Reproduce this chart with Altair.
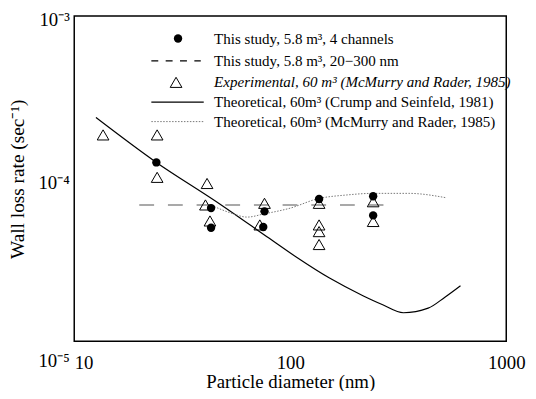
import altair as alt
import pandas as pd

# ---------------- data ----------------
# This study, 5.8 m3, 4 channels (filled circles)
study_d = [24, 43, 43, 76, 75, 136, 242, 242]
study_rate = [1.26e-4, 6.6e-5, 5.0e-5, 6.3e-5, 5.05e-5, 7.5e-5, 7.8e-5, 5.95e-5]

# Experimental, 60 m3 (McMurry and Rader, 1985) (open triangles)
exp_d = [13.6, 24.2, 24.2, 41.2, 40.5, 42.5, 76, 72.3, 136, 136, 136, 136, 242, 242]
exp_rate = [1.86e-4, 1.86e-4, 1.02e-4, 9.35e-5, 6.9e-5, 5.5e-5, 7.06e-5, 5.2e-5,
            7.06e-5, 5.2e-5, 4.73e-5, 3.94e-5, 7.22e-5, 5.46e-5]

# This study, 5.8 m3, 20-300 nm (dashed)
dash_d = [20, 280]
dash_rate = [6.9e-5, 6.9e-5]

# Theoretical, Crump and Seinfeld (solid)
crump_d = [12.6, 24, 45, 80, 107, 152, 217, 268, 334, 435, 520, 614]
crump_rate = [2.38e-4, 1.26e-4, 7.3e-5, 4.3e-5, 3.29e-5, 2.45e-5, 1.91e-5,
              1.68e-5, 1.5e-5, 1.6e-5, 1.87e-5, 2.2e-5]

# Theoretical, McMurry and Rader (dotted)
mcm_d = [44.5, 52.8, 63.2, 75.7, 99.8, 134.6, 181.5, 242, 353, 530]
mcm_rate = [6.74e-5, 6.17e-5, 5.81e-5, 6.08e-5, 6.59e-5, 7.54e-5, 7.94e-5,
            8.13e-5, 8.13e-5, 7.63e-5]

legend_labels = [
    "This study, 5.8 m³, 4 channels",
    "This study, 5.8 m³, 20−300 nm",
    "Experimental, 60 m³ (McMurry and Rader, 1985)",
    "Theoretical, 60m³ (Crump and Seinfeld, 1981)",
    "Theoretical, 60m³ (McMurry and Rader, 1985)",
]

x_major = [10, 100, 1000]
y_major = [1e-5, 1e-4, 1e-3]
y_major_labels = ["10⁻⁵", "10⁻⁴", "10⁻³"]

# ---------------- layout / style ----------------
W, H = 437, 329
FONT = "Liberation Serif"

xs = alt.Scale(type="log", domain=[10, 1000], nice=False)
ys = alt.Scale(type="log", domain=[1e-5, 1e-3], nice=False)

y_label_expr = (
    f"datum.value < 5e-5 ? '{y_major_labels[0]}' : "
    f"datum.value < 5e-4 ? '{y_major_labels[1]}' : '{y_major_labels[2]}'"
)

axis_x_labels = alt.Axis(
    orient="bottom", values=x_major, format="d", ticks=False, domain=False, grid=False,
    labelFont=FONT, labelFontSize=19, labelColor="black", labelPadding=12,
    labelFlush=False,
    labelAlign={"condition": {"test": "datum.value == 10", "value": "left"}, "value": "center"},
    title="Particle diameter (nm)", titleFont=FONT, titleFontSize=19,
    titleFontWeight="normal", titleColor="black", titlePadding=1,
)
axis_y_labels = alt.Axis(
    orient="left", values=y_major, labelExpr=y_label_expr, ticks=False, domain=False,
    grid=False, labelFont=FONT, labelFontSize=19, labelColor="black", labelPadding=5,
    labelOffset={"condition": {"test": "datum.value < 5e-5", "value": 19}, "value": 4},
    title="Wall loss rate (sec⁻¹)", titleFont=FONT, titleFontSize=19.5,
    titleFontWeight="normal", titleColor="black", titlePadding=11,
)

df_study = pd.DataFrame({"d": study_d, "r": study_rate})
df_exp = pd.DataFrame({"d": exp_d, "r": exp_rate})
df_dash = pd.DataFrame({"d": dash_d, "r": dash_rate})
df_crump = pd.DataFrame({"d": crump_d, "r": crump_rate})
df_mcm = pd.DataFrame({"d": mcm_d, "r": mcm_rate})
one = pd.DataFrame({"k": [0]})

crump = alt.Chart(df_crump).mark_line(
    color="black", strokeWidth=1.2, interpolate="monotone"
).encode(
    x=alt.X("d:Q", scale=xs, axis=axis_x_labels),
    y=alt.Y("r:Q", scale=ys, axis=axis_y_labels),
)
mcm = alt.Chart(df_mcm).mark_line(
    color="#777777", strokeWidth=1, strokeDash=[1.5, 1.5], interpolate="monotone"
).encode(
    x=alt.X("d:Q", scale=xs, axis=None),
    y=alt.Y("r:Q", scale=ys, axis=None),
)
dash = alt.Chart(df_dash).mark_line(
    color="#555555", strokeWidth=1.1, strokeDash=[15, 14]
).encode(
    x=alt.X("d:Q", scale=xs, axis=None),
    y=alt.Y("r:Q", scale=ys, axis=None),
)
tri = alt.Chart(df_exp).mark_point(
    shape="triangle-up", filled=False, color="black", strokeWidth=1, size=140, opacity=1
).encode(
    x=alt.X("d:Q", scale=xs, axis=None),
    y=alt.Y("r:Q", scale=ys, axis=None),
)
circ = alt.Chart(df_study).mark_point(
    shape="circle", filled=True, color="black", size=72, opacity=1
).encode(
    x=alt.X("d:Q", scale=xs, axis=None),
    y=alt.Y("r:Q", scale=ys, axis=None),
)

# ---------------- legend (drawn inside the plot) ----------------
row_y = [22.7, 45.3, 67, 87, 106.7]
sym_x, line_x0, line_x1, text_x = 105, 78, 131, 141.5

leg = [
    alt.Chart(one).mark_point(shape="circle", filled=True, color="black", size=72, opacity=1)
    .encode(x=alt.value(sym_x), y=alt.value(row_y[0])),
    alt.Chart(one).mark_rule(color="black", strokeWidth=1.1, strokeDash=[7, 7.5])
    .encode(x=alt.value(line_x0), x2=alt.value(line_x1 - 3), y=alt.value(row_y[1])),
    alt.Chart(one).mark_point(shape="triangle-up", filled=False, color="black",
                              strokeWidth=1, size=140, opacity=1)
    .encode(x=alt.value(sym_x - 2), y=alt.value(row_y[2])),
    alt.Chart(one).mark_rule(color="black", strokeWidth=1.2)
    .encode(x=alt.value(line_x0), x2=alt.value(line_x1), y=alt.value(row_y[3])),
    alt.Chart(one).mark_rule(color="#777777", strokeWidth=1, strokeDash=[1.5, 1.5])
    .encode(x=alt.value(line_x0), x2=alt.value(line_x1), y=alt.value(row_y[4])),
]
for i, lab in enumerate(legend_labels):
    leg.append(
        alt.Chart(one).mark_text(
            text=lab, font=FONT, fontSize=15.2, align="left", baseline="middle",
            color="black", fontStyle="italic" if i == 2 else "normal",
        ).encode(x=alt.value(text_x), y=alt.value(row_y[i]))
    )

chart = alt.layer(crump, mcm, dash, tri, circ, *leg).resolve_axis(
    x="independent", y="independent"
).properties(
    width=W, height=H,
    background="white",
    autosize=alt.AutoSizeParams(type="none"),
    padding={"left": 67, "top": 6, "right": 22, "bottom": 48},
).configure_view(
    stroke="black", strokeWidth=1.5
)

chart.save("out.html", embed_options={"renderer": "svg", "actions": False})
